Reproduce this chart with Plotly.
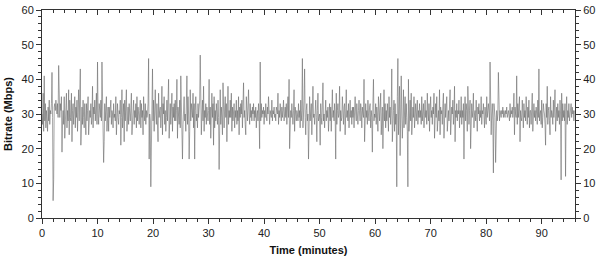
import plotly.graph_objects as go

STEP_MIN = 0.1
bitrate = [
    30, 27, 36, 25, 41, 28, 33, 26, 31, 29, 25, 32, 28, 34, 27, 31, 30, 33, 42, 29,
    5, 11, 32, 33, 31, 34, 32, 30, 33, 29, 44, 30, 29, 33, 31, 35, 19, 28, 31, 27,
    35, 23, 30, 33, 36, 26, 31, 28, 37, 24, 34, 29, 28, 36, 22, 31, 33, 27, 30, 35,
    26, 32, 29, 34, 25, 31, 37, 28, 33, 43, 21, 30, 32, 27, 34, 29, 26, 33, 30, 24,
    33, 28, 31, 35, 24, 30, 31, 29, 33, 27, 29, 38, 26, 32, 30, 34, 28, 32, 36, 27,
    45, 30, 27, 33, 31, 29, 34, 28, 45, 30, 24, 16, 22, 33, 28, 31, 35, 25, 30, 32,
    25, 32, 29, 31, 34, 27, 31, 30, 26, 33, 29, 30, 28, 35, 24, 31, 33, 29, 27, 31,
    30, 34, 21, 29, 37, 26, 30, 33, 22, 34, 28, 31, 37, 25, 29, 32, 27, 33, 30, 28,
    32, 36, 24, 30, 31, 34, 27, 31, 29, 33, 26, 35, 28, 32, 30, 27, 31, 34, 26, 33,
    29, 31, 24, 35, 30, 28, 33, 27, 31, 29, 30, 33, 46, 17, 30, 28, 9, 26, 33, 43,
    28, 34, 25, 31, 37, 30, 27, 33, 29, 22, 36, 29, 31, 32, 26, 30, 38, 24, 33, 30,
    35, 27, 31, 25, 29, 34, 28, 32, 40, 23, 30, 33, 27, 31, 36, 25, 32, 29, 33, 28,
    34, 28, 31, 40, 23, 32, 30, 27, 34, 26, 41, 29, 33, 17, 27, 31, 35, 28, 30, 25,
    33, 41, 27, 35, 30, 17, 25, 37, 28, 33, 31, 29, 36, 26, 33, 17, 31, 35, 28, 30,
    26, 33, 29, 31, 34, 47, 29, 24, 30, 34, 28, 38, 25, 31, 29, 33, 27, 32, 30, 28,
    31, 40, 27, 32, 23, 30, 36, 29, 33, 21, 35, 26, 31, 28, 33, 30, 27, 34, 29, 14,
    31, 37, 27, 32, 29, 24, 39, 30, 26, 32, 35, 29, 33, 22, 30, 38, 27, 31, 29, 34,
    29, 36, 25, 32, 28, 30, 33, 26, 31, 29, 34, 27, 31, 28, 35, 24, 32, 29, 33, 30,
    34, 26, 31, 39, 29, 31, 27, 24, 35, 30, 28, 32, 37, 30, 27, 33, 29, 31, 28, 32,
    30, 33, 28, 31, 29, 32, 26, 30, 31, 28, 33, 30, 20, 45, 28, 33, 29, 31, 30, 32,
    27, 31, 29, 33, 30, 28, 32, 30, 35, 29, 27, 31, 30, 29, 34, 28, 31, 30, 32, 29,
    30, 28, 32, 31, 30, 36, 27, 31, 29, 33, 30, 28, 32, 29, 31, 34, 28, 30, 32, 29,
    33, 27, 31, 35, 29, 40, 20, 28, 31, 29, 33, 30, 27, 31, 37, 25, 32, 30, 28, 31,
    30, 28, 33, 29, 31, 26, 34, 28, 31, 46, 26, 30, 34, 43, 29, 24, 31, 33, 28, 30,
    17, 29, 35, 28, 31, 33, 24, 30, 38, 29, 30, 27, 32, 34, 29, 22, 31, 36, 28, 29,
    30, 21, 33, 29, 27, 31, 39, 28, 30, 26, 33, 34, 28, 31, 29, 32, 25, 30, 33, 28,
    32, 25, 30, 37, 29, 31, 28, 33, 30, 17, 36, 27, 31, 33, 29, 30, 38, 25, 31, 28,
    29, 35, 30, 27, 32, 33, 24, 30, 37, 29, 31, 28, 33, 26, 30, 34, 29, 31, 27, 32,
    29, 32, 26, 31, 35, 30, 28, 33, 29, 27, 31, 34, 30, 28, 33, 31, 26, 32, 30, 29,
    40, 22, 31, 33, 29, 31, 27, 34, 30, 28, 32, 33, 26, 31, 29, 19, 33, 40, 28, 30,
    29, 33, 27, 32, 30, 25, 35, 30, 28, 32, 36, 24, 30, 32, 20, 29, 37, 28, 33, 26,
    31, 28, 33, 30, 25, 35, 29, 32, 27, 31, 43, 22, 30, 31, 34, 25, 33, 27, 30, 9,
    35, 46, 24, 29, 38, 18, 33, 41, 30, 23, 28, 37, 26, 31, 35, 27, 33, 29, 25, 9,
    40, 25, 31, 34, 28, 36, 24, 30, 32, 29, 35, 26, 31, 33, 28, 30, 34, 27, 31, 29,
    33, 29, 31, 27, 35, 28, 30, 33, 26, 31, 34, 29, 31, 27, 36, 30, 28, 33, 25, 31,
    35, 29, 31, 27, 32, 30, 36, 23, 31, 33, 29, 35, 25, 30, 31, 28, 37, 24, 32, 30,
    31, 27, 33, 36, 23, 30, 33, 29, 31, 35, 25, 30, 31, 28, 33, 37, 24, 31, 32, 30,
    34, 27, 30, 38, 22, 31, 29, 33, 28, 31, 30, 34, 26, 31, 29, 35, 27, 31, 29, 33,
    17, 30, 35, 28, 33, 31, 25, 38, 30, 27, 31, 34, 20, 29, 33, 29, 31, 36, 26, 30,
    31, 28, 34, 29, 25, 32, 30, 33, 28, 31, 29, 35, 27, 31, 30, 33, 29, 26, 32, 30,
    27, 35, 29, 31, 33, 30, 28, 45, 30, 24, 30, 33, 28, 13, 33, 31, 29, 16, 30, 31,
    28, 30, 42, 29, 28, 31, 30, 29, 31, 30, 32, 29, 31, 30, 29, 31, 30, 32, 29, 30,
    31, 30, 28, 33, 29, 31, 30, 32, 29, 31, 36, 24, 32, 30, 29, 41, 27, 33, 29, 31,
    35, 22, 31, 29, 28, 34, 30, 26, 33, 29, 31, 28, 35, 30, 27, 32, 29, 34, 26, 31,
    31, 27, 33, 36, 25, 30, 33, 29, 31, 28, 32, 30, 27, 34, 29, 43, 28, 30, 31, 27,
    34, 26, 29, 33, 31, 30, 27, 21, 33, 29, 38, 27, 31, 32, 28, 24, 35, 29, 31, 30,
    27, 34, 29, 32, 37, 25, 30, 32, 28, 33, 29, 31, 27, 34, 30, 11, 36, 28, 33, 29,
    31, 28, 33, 12, 30, 35, 27, 31, 29, 33, 28, 31, 30, 33, 29, 32, 30, 31, 28, 31,
]
time_min = [round(i * STEP_MIN, 2) for i in range(len(bitrate))]

x_ticks = [0, 10, 20, 30, 40, 50, 60, 70, 80, 90]
y_ticks = [0, 10, 20, 30, 40, 50, 60]
FONT = "Liberation Sans, Arial"

fig = go.Figure()
fig.add_trace(go.Scatter(x=time_min, y=bitrate, mode="lines",
                         line=dict(color="#6a6a6a", width=0.6), showlegend=False))
fig.add_trace(go.Scatter(x=time_min, y=bitrate, mode="lines", xaxis="x2", yaxis="y2",
                         line=dict(color="rgba(0,0,0,0)", width=0), showlegend=False,
                         hoverinfo="skip"))

def ax(**kw):
    d = dict(showgrid=False, zeroline=False, showline=True, linecolor="#333",
             linewidth=1, ticks="outside", tickcolor="#333", ticklen=5,
             automargin=False,
             tickfont=dict(family=FONT, size=11, color="#222"))
    d.update(kw)
    return d

fig.update_layout(
    width=600, height=258,
    margin=dict(l=42, r=25, t=10, b=40),
    paper_bgcolor="white", plot_bgcolor="white",
    xaxis=ax(range=[0, 96], tickvals=x_ticks,
             minor=dict(dtick=2, ticks="outside", ticklen=3, tickcolor="#333"),
             title=dict(text="<b>Time (minutes)</b>", standoff=8,
                        font=dict(family=FONT, size=11, color="#111"))),
    xaxis2=ax(range=[0, 96], tickvals=x_ticks, overlaying="x", side="top",
              ticks="inside", showticklabels=False,
              minor=dict(dtick=2, ticks="inside", ticklen=3, tickcolor="#333")),
    yaxis=ax(range=[0, 60], tickvals=y_ticks,
             minor=dict(dtick=2, ticks="outside", ticklen=3, tickcolor="#333"),
             title=dict(text="<b>Bitrate (Mbps)</b>", standoff=6,
                        font=dict(family=FONT, size=11, color="#111"))),
    yaxis2=ax(range=[0, 60], tickvals=y_ticks, overlaying="y", side="right",
              minor=dict(dtick=2, ticks="outside", ticklen=3, tickcolor="#333")),
)

fig.write_html("out.html")
